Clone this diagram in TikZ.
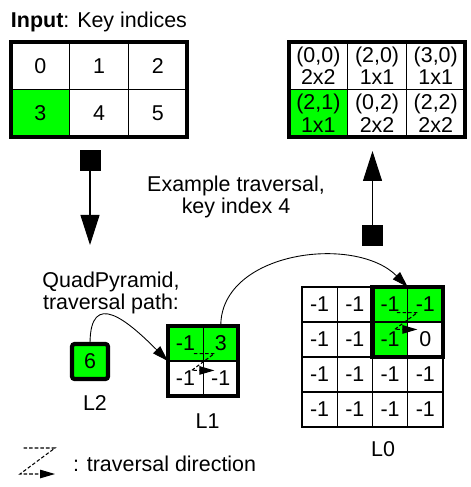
\documentclass[tikz,border=0pt]{standalone}
\usepackage{fontspec}
\setmainfont{Liberation Sans}
\usepackage{tikz}
\usetikzlibrary{arrows.meta,positioning}
\definecolor{keygreen}{RGB}{0,255,0}

\begin{document}
\begin{tikzpicture}[
            every node/.style = {inner sep = 0pt,
                                outer sep = 0pt,
                                font      = \fontsize{12.2}{13}\selectfont},
            keycell/.style    = {draw,
                                line width     = 0.6pt,
                                minimum width  = 1.174cm,
                                minimum height = 0.95cm},
            outcell/.style    = {keycell,
                                align = center},
            pyrcell/.style    = {draw,
                                line width     = 0.6pt,
                                minimum width  = 0.705cm,
                                minimum height = 0.7cm},
            hit/.style        = {fill = keygreen},
            frame/.style      = {draw,
                                line width = 2.4pt},
            blocksq/.style    = {fill = black,
                                minimum size = 0.42cm},
            bigarrow/.style   = {line width = 0.6pt,
                                -{Triangle[length=0.6cm, width=0.38cm]}},
            hop/.style        = {line width = 0.5pt,
                                -{Triangle[length=0.32cm, width=0.2cm]}},
            travel/.style     = {line width   = 0.6pt,
                                dash pattern = on 2pt off 1.2pt,
                                -{Triangle[length=0.3cm, width=0.17cm]}}
            ]
            \newcommand{\travdir}[2]{%
            \begin{scope}[shift={#1}, scale=#2]
                \draw[travel] (-0.28,0.26) -- (0.35,0.26)
                                -- (-0.35,-0.26) -- (0.35,-0.26);
            \end{scope}
            }

            \useasboundingbox (0,0) rectangle (9.4,-9.74);

            \node[anchor = base west] (title) at (0.22,-0.554) {\textbf{Input}: Key indices};

            \node[keycell]                       (in0) at (0.807,-1.315) {0};
            \node[keycell, right = 0pt of in0]   (in1) {1};
            \node[keycell, right = 0pt of in1]   (in2) {2};
            \node[keycell, hit, below = 0pt of in0] (in3) {3};
            \node[keycell, right = 0pt of in3]   (in4) {4};
            \node[keycell, right = 0pt of in4]   (in5) {5};
            \draw[frame] (in0.north west) rectangle (in5.south east);

            \node[outcell]                        (out0) at (6.367,-1.315) {(0,0)\\2x2};
            \node[outcell, right = 0pt of out0]   (out1) {(2,0)\\1x1};
            \node[outcell, right = 0pt of out1]   (out2) {(3,0)\\1x1};
            \node[outcell, hit, below = 0pt of out0] (out3) {(2,1)\\1x1};
            \node[outcell, right = 0pt of out3]   (out4) {(0,2)\\2x2};
            \node[outcell, right = 0pt of out4]   (out5) {(2,2)\\2x2};
            \draw[frame] (out0.north west) rectangle (out5.south east);

            \path (1.8,-4.9)  coordinate (indown)
                  (7.45,-3.02) coordinate (outup);
            \node[blocksq] (insq)  at (1.8,-3.22) {};
            \node[blocksq] (outsq) at (7.45,-4.72) {};
            \draw[bigarrow] (insq.south)  -- (indown);
            \draw[bigarrow] (outsq.north) -- (outup);

            \node[align = center] (example) at (4.72,-3.94) {Example traversal,\\key index 4};
            \node[align = center] (quadpyr) at (2.22,-5.86) {QuadPyramid,\\traversal path:};

            \node[pyrcell, hit, frame,
                  rounded corners = 1.5pt,
                  minimum width   = 0.72cm] (l2) at (1.8,-7.23) {6};

            \node[pyrcell, hit]                    (q1a) at (3.71,-6.87) {-1};
            \node[pyrcell, hit, right = 0pt of q1a] (q1b) {3};
            \node[pyrcell, below = 0pt of q1a]      (q1c) {-1};
            \node[pyrcell, right = 0pt of q1c]      (q1d) {-1};
            \draw[frame] (q1a.north west) rectangle (q1d.south east);

            \node[pyrcell]                          (c00) at (6.392,-6.09) {-1};
            \node[pyrcell, right = 0pt of c00]      (c01) {-1};
            \node[pyrcell, hit, right = 0pt of c01] (c02) {-1};
            \node[pyrcell, hit, right = 0pt of c02] (c03) {-1};
            \node[pyrcell, below = 0pt of c00]      (c10) {-1};
            \node[pyrcell, right = 0pt of c10]      (c11) {-1};
            \node[pyrcell, hit, right = 0pt of c11] (c12) {-1};
            \node[pyrcell, right = 0pt of c12]      (c13) {0};
            \node[pyrcell, below = 0pt of c10]      (c20) {-1};
            \node[pyrcell, right = 0pt of c20]      (c21) {-1};
            \node[pyrcell, right = 0pt of c21]      (c22) {-1};
            \node[pyrcell, right = 0pt of c22]      (c23) {-1};
            \node[pyrcell, below = 0pt of c20]      (c30) {-1};
            \node[pyrcell, right = 0pt of c30]      (c31) {-1};
            \node[pyrcell, right = 0pt of c31]      (c32) {-1};
            \node[pyrcell, right = 0pt of c32]      (c33) {-1};
            \draw[frame] (c02.north west) rectangle (c13.south east);

            \node[anchor = base] (l2name) at (1.9,-8.2)   {L2};
            \node[anchor = base] (l1name) at (4.15,-8.56) {L1};
            \node[anchor = base] (l0name) at (7.66,-9.13) {L0};

            \draw[hop] (l2.north)  to[out=90, in=135, looseness=1.8] (q1a.south west);
            \draw[hop] (q1b.north) to[out=90, in=135] (c02.north east);

            \travdir{(4.06,-7.24)}{0.65}
            \travdir{(8.12,-6.42)}{0.65}
            \travdir{(0.75,-9.22)}{1}
            \node[anchor = base west] (legend) at (1.46,-9.42) {: traversal direction};
\end{tikzpicture}
\end{document}
